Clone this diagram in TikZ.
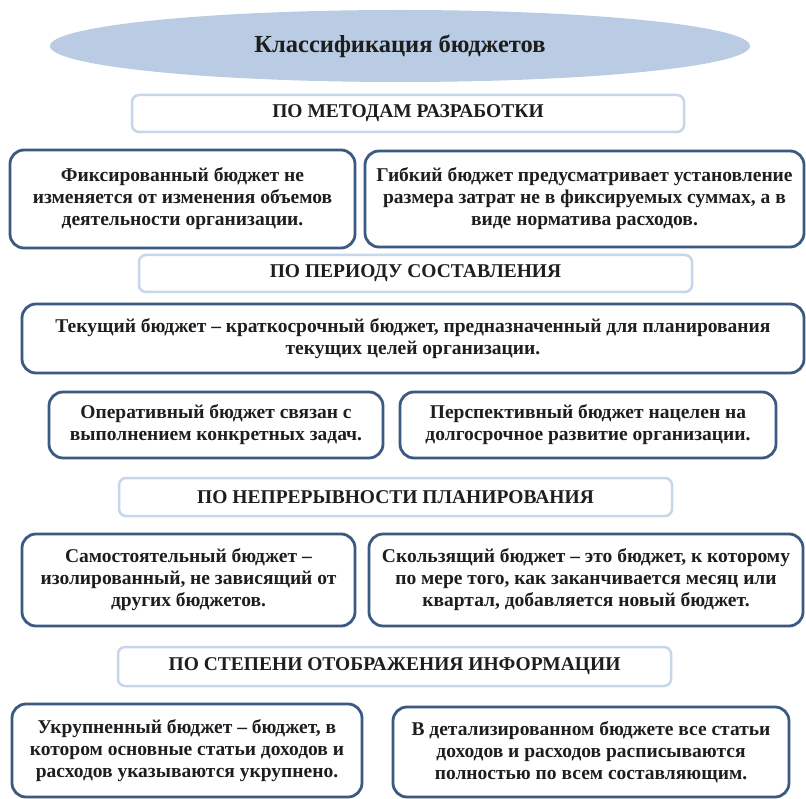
\documentclass[tikz,border=0pt]{standalone}
\usepackage{fontspec}
\setmainfont{Liberation Serif}
\usetikzlibrary{shapes.geometric}
\usepackage{xcolor}
\definecolor{titlefill}{HTML}{B9CCE4}
\definecolor{headline}{HTML}{C6D6EB}
\definecolor{boxline}{HTML}{3A5A82}
\definecolor{textdark}{HTML}{1E1E1E}

\begin{document}
\begin{tikzpicture}[
    x=1pt, y=-1pt,
    titleoval/.style={ellipse, fill=titlefill, minimum width=700pt, minimum height=72pt, font=\fontsize{24.5}{28}\selectfont\bfseries, text=textdark},
    headbox/.style={draw=headline, line width=2.5pt, rectangle, rounded corners=7pt, fill=white, minimum height=37pt, minimum width=553pt, align=center, font=\fontsize{19.5}{22}\selectfont\bfseries, text=textdark},
    infobox/.style={draw=boxline, line width=2.8pt, rectangle, rounded corners=14pt, fill=white, align=center, font=\fontsize{19.5}{22}\selectfont\bfseries, text=textdark}
]
  \useasboundingbox[fill=white] (0,0) rectangle (806,799);
  % Nodes
  \node (title) [titleoval] at (400,46) {Классификация бюджетов};

  \node (hdrmeth) [headbox, minimum width=552pt] at (408,113.5) {ПО МЕТОДАМ РАЗРАБОТКИ};
  \node (fixed) [infobox, minimum width=345pt, minimum height=98pt] at (182.5,199) {Фиксированный бюджет не \\ изменяется от изменения объемов \\ деятельности организации.};
  \node (flex) [infobox, minimum width=439pt, minimum height=96pt] at (584.5,199) {Гибкий бюджет предусматривает установление \\ размера затрат не в фиксируемых суммах, а в \\ виде норматива расходов.};

  \node (hdrper) [headbox] at (415.5,273.5) {ПО ПЕРИОДУ СОСТАВЛЕНИЯ};
  \node (current) [infobox, minimum width=782pt, minimum height=69pt] at (413,338.5) {Текущий бюджет – краткосрочный бюджет, предназначенный для планирования \\ текущих целей организации.};
  \node (oper) [infobox, minimum width=334pt, minimum height=66pt] at (216,425) {Оперативный бюджет связан с \\ выполнением конкретных задач.};
  \node (persp) [infobox, minimum width=376pt, minimum height=66pt] at (588,425) {Перспективный бюджет нацелен на \\ долгосрочное развитие организации.};

  \node (hdrcont) [headbox, minimum height=38pt] at (395.5,497) {ПО НЕПРЕРЫВНОСТИ ПЛАНИРОВАНИЯ};
  \node (indep) [infobox, minimum width=333pt, minimum height=92pt] at (188.5,580) {Самостоятельный бюджет – \\ изолированный, не зависящий от \\ других бюджетов.};
  \node (slide) [infobox, minimum width=434pt, minimum height=92pt] at (586,580) {Скользящий бюджет – это бюджет, к которому \\ по мере того, как заканчивается месяц или \\ квартал, добавляется новый бюджет.};

  \node (hdrinfo) [headbox, minimum height=39pt] at (394.5,666.5) {ПО СТЕПЕНИ ОТОБРАЖЕНИЯ ИНФОРМАЦИИ};
  \node (aggr) [infobox, minimum width=350pt, minimum height=93pt] at (187,750.5) {Укрупненный бюджет – бюджет, в \\ котором основные статьи доходов и \\ расходов указываются укрупнено.};
  \node (detail) [infobox, minimum width=396pt, minimum height=90pt] at (591,752) {В детализированном бюджете все статьи \\ доходов и расходов расписываются \\ полностью по всем составляющим.};
\end{tikzpicture}
\end{document}
